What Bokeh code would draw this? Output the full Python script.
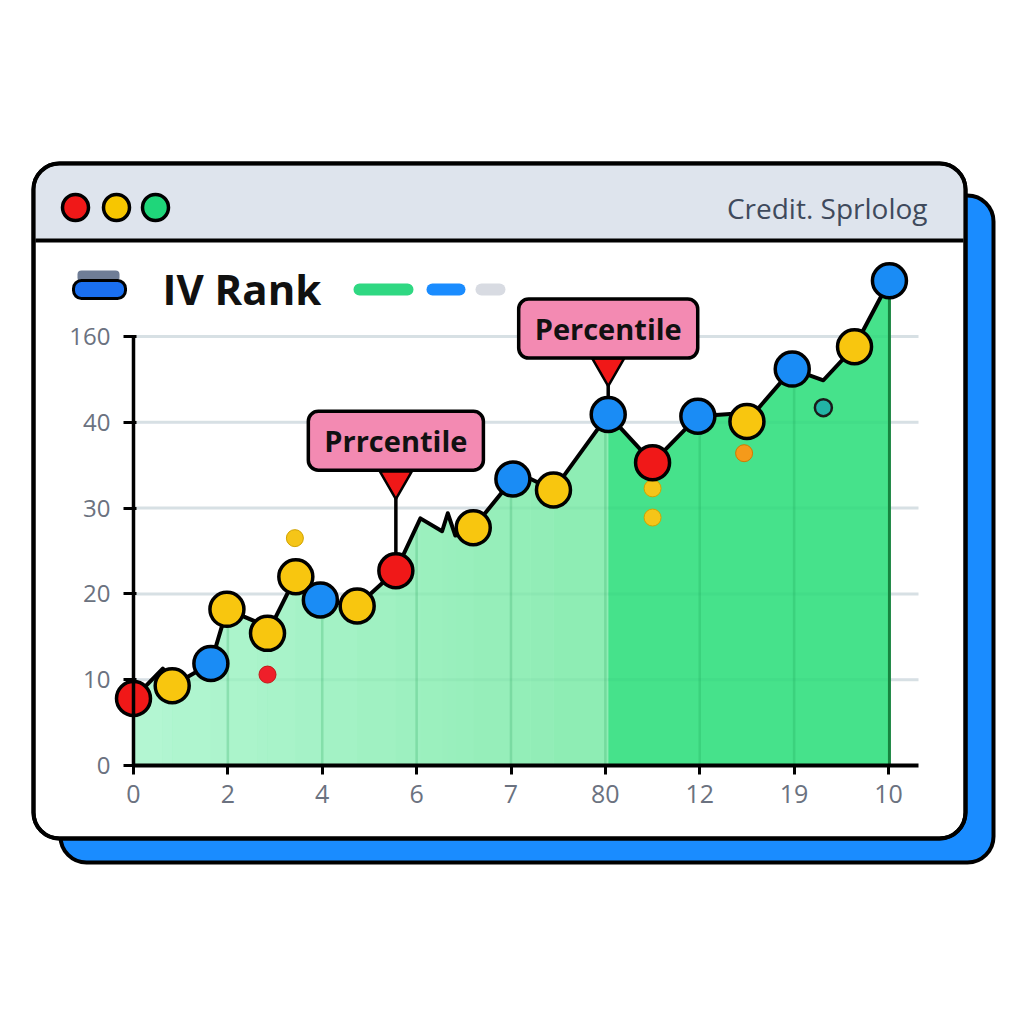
from bokeh.plotting import figure
from bokeh.models import BoxAnnotation, Label, FixedTicker
from bokeh.embed import file_html
from bokeh.resources import INLINE
import numpy as np

# ---------------- data ----------------
path_x = [0.00, 0.31, 0.41, 0.82, 0.99, 1.31, 1.42, 1.72, 1.98, 2.37, 2.78,
          3.04, 3.27, 3.33, 3.41, 3.60, 4.02, 4.21, 4.45, 5.03, 5.50, 5.98,
          6.36, 6.50, 6.98, 7.31, 7.64, 8.01]
path_y = [7.8, 11.3, 9.3, 11.9, 18.2, 16.7, 15.4, 22.0, 19.3, 18.6, 22.7,
          28.8, 27.3, 29.4, 26.8, 27.7, 33.4, 33.4, 32.1, 40.9, 35.3, 40.7,
          41.0, 40.1, 46.2, 44.9, 48.8, 56.5]
path_kind = ["r", "", "y", "b", "y", "", "y", "y", "b", "y", "r",
             "", "", "", "", "y", "b", "", "y", "b", "r", "b",
             "", "y", "b", "", "y", "b"]

extra_x = [1.71, 1.42, 5.50, 5.50, 6.47, 7.31]
extra_y = [26.5, 10.6, 32.3, 28.9, 36.4, 41.7]
extra_kind = ["y", "r", "y", "y", "o", "t"]

x_tick_pos = [0, 1, 2, 3, 4, 5, 6, 7, 8]
x_tick_labels = ["0", "2", "4", "6", "7", "80", "12", "19", "10"]
y_tick_pos = [0, 10, 20, 30, 40, 50]
y_tick_labels = ["0", "10", "20", "30", "40", "160"]

chart_title = "IV Rank"
window_caption = "Credit. Sprlolog"
callout_index = [10, 19]
callout_text = ["Prrcentile", "Percentile"]

# ---------------- styles / layout ----------------
W, H = 1020, 1020
OX, OY = 133, 765            # canvas px of the data origin
PX_X, PX_Y = 94.375, 8.58    # px per data unit
X0, X1 = -OX / PX_X, (W - OX) / PX_X
Y0, Y1 = -(H - OY) / PX_Y, OY / PX_Y
X_AXIS_END = 8.318
callout_label_off = [130, 86]
callout_ptr_off = [90, 47]
split_index = 19

main_colors = {"r": "#f01818", "y": "#f8c60f", "b": "#1a8cf5"}
extra_fill = {"y": "#f5c518", "r": "#ef1f2a", "o": "#f59a1a", "t": "#22b4a6"}
extra_line = {"y": "#d1a200", "r": "#c41414", "o": "#d27800", "t": "#1a1a1a"}


def hex_rgb(h):
    h = h.lstrip("#")
    return [int(h[i:i + 2], 16) for i in (0, 2, 4)]


def mix(c1, c2, f):
    a, b = hex_rgb(c1), hex_rgb(c2)
    return "#%02x%02x%02x" % tuple(round(x + (y - x) * f) for x, y in zip(a, b))


p = figure(width=W, height=H, x_range=(X0, X1), y_range=(Y0, Y1),
           output_backend="svg", toolbar_location=None,
           min_border=0, min_border_left=0, min_border_right=0,
           min_border_top=0, min_border_bottom=0)
p.outline_line_color = None
p.background_fill_color = "white"
p.border_fill_color = "white"

# ---------------- window decoration ----------------
def box(l, r, t, b, fill, line=None, lw=0, radius=0, level="image"):
    bx = BoxAnnotation(left=l, right=r, top=t, bottom=b,
                       left_units="canvas", right_units="canvas",
                       top_units="canvas", bottom_units="canvas",
                       fill_color=fill, fill_alpha=1 if fill else 0,
                       line_color=line, line_alpha=1, line_width=lw,
                       border_radius=radius, level=level, propagate_hover=False)
    p.add_layout(bx)
    return bx

box(60, 993, 195, 862, "#1a8cff", "black", 4, 26)       # shadow
box(33, 965, 163, 838, "white", "black", 4, 26)         # window
box(35, 963, 165, 239, "#dee4ed", radius=(23, 23, 0, 0))  # title bar
box(35, 963, 238, 242, "black")                         # separator
box(33, 965, 163, 838, None, "black", 4, 26)            # window outline

for cx, col in [(75, "#f01818"), (116, "#f7c600"), (155, "#1fd67a")]:
    box(cx - 13, cx + 13, 194, 220, col, "black", 3.5, 13)

# legend-like icon and pills
box(77, 119, 270, 281, "#6f7d96", None, 0, 4)
box(73, 125, 280, 298, "#1a6ff0", "black", 3, 8)
box(353, 413, 283, 295, "#2fd882", None, 0, 6)
box(426, 465, 283, 295, "#1a8cff", None, 0, 6)
box(475, 505, 283, 295, "#d8dbe2", None, 0, 6)

p.add_layout(Label(x=927, y=207, x_units="canvas", y_units="canvas",
                   text=window_caption, text_align="right", text_baseline="middle",
                   text_font="Open Sans", text_font_size="28px", text_color="#3f4a5c"))
p.add_layout(Label(x=162, y=288, x_units="canvas", y_units="canvas",
                   text=chart_title, text_align="left", text_baseline="middle",
                   text_font="Open Sans", text_font_style="bold",
                   text_font_size="42px", text_color="#111111"))

# ---------------- axes (fixed at the data origin) ----------------
p.xaxis.fixed_location = 0
p.yaxis.fixed_location = 0
p.xaxis.ticker = FixedTicker(ticks=x_tick_pos)
p.xaxis.major_label_overrides = {t: s for t, s in zip(x_tick_pos, x_tick_labels)}
p.yaxis.ticker = FixedTicker(ticks=y_tick_pos)
p.yaxis.major_label_overrides = {t: s for t, s in zip(y_tick_pos, y_tick_labels)}
p.xaxis.minor_tick_line_color = None
p.yaxis.minor_tick_line_color = None

p.xaxis.bounds = (0, X_AXIS_END)
p.xaxis.axis_line_width = 4
p.xaxis.axis_line_color = "black"
p.xaxis.major_tick_line_width = 3
p.xaxis.major_tick_line_color = "black"
p.xaxis.major_tick_out = 9
p.xaxis.major_tick_in = 0
p.xaxis.major_label_standoff = 10
p.xaxis.major_label_text_font = "Open Sans"
p.xaxis.major_label_text_font_size = "25px"
p.xaxis.major_label_text_color = "#6b7280"

p.yaxis.bounds = (0, y_tick_pos[-1])
p.yaxis.axis_line_width = 3.5
p.yaxis.axis_line_color = "black"
p.yaxis.major_tick_line_width = 3
p.yaxis.major_tick_line_color = "black"
p.yaxis.major_tick_in = 3
p.yaxis.major_tick_out = 10
p.yaxis.major_label_standoff = 13
p.yaxis.major_label_text_font = "Open Sans"
p.yaxis.major_label_text_font_size = "24px"
p.yaxis.major_label_text_color = "#6b7280"

p.xgrid.grid_line_color = None
p.ygrid.grid_line_color = None

# horizontal guide lines from the y axis to the right end of the x axis
gy = y_tick_pos[1:]
p.segment(x0=[0] * len(gy), y0=gy, x1=[X_AXIS_END] * len(gy), y1=gy,
          line_color="#e1e5ec", line_width=3, level="underlay")

# ---------------- area ----------------
light_l, light_r, dark = "#b4f6d3", "#8cecb2", "#46e28b"
# base layer so that the gradient strips leave no seams
p.varea(x=path_x[:split_index + 1], y1=0, y2=path_y[:split_index + 1],
        fill_color=mix(light_l, light_r, 0.5))
for i in range(split_index):
    f = (path_x[i] + path_x[i + 1]) / 2 / path_x[split_index]
    p.varea(x=path_x[i:i + 2], y1=0, y2=path_y[i:i + 2],
            fill_color=mix(light_l, light_r, f))
p.varea(x=path_x[split_index:], y1=0, y2=path_y[split_index:],
        fill_color=dark)

# guide lines seen through the fill
p.segment(x0=[0] * len(gy), y0=gy, x1=[X_AXIS_END] * len(gy), y1=gy,
          line_color="#0b7a3c", line_alpha=0.045, line_width=3)
vx = x_tick_pos[1:-1]
vtop = list(np.interp(vx, path_x, path_y))
p.segment(x0=vx, y0=[0] * len(vx), x1=vx, y1=vtop,
          line_color="#169a4e", line_alpha=0.22, line_width=2.5)
p.segment(x0=[path_x[-1]], y0=[0], x1=[path_x[-1]], y1=[path_y[-1]],
          line_color="#17843f", line_width=3)

# extra small dots
p.scatter(extra_x, extra_y, size=17,
          fill_color=[extra_fill[k] for k in extra_kind],
          line_color=[extra_line[k] for k in extra_kind],
          line_width=[2.5 if k == "t" else 1 for k in extra_kind])

# callout stems and pointers
cx = [path_x[i] for i in callout_index]
cy = [path_y[i] for i in callout_index]
ptr_y = [y + o / PX_Y for y, o in zip(cy, callout_ptr_off)]
p.segment(x0=cx, y0=cy, x1=cx, y1=ptr_y, line_color="black", line_width=3.5)

# main line
p.line(path_x, path_y, line_color="black", line_width=4, line_join="round")

for k, col in main_colors.items():
    xs = [x for x, kk in zip(path_x, path_kind) if kk == k]
    ys = [y for y, kk in zip(path_y, path_kind) if kk == k]
    p.scatter(xs, ys, size=34, fill_color=col, line_color="black", line_width=3.5)

p.scatter(cx, ptr_y, marker="inverted_triangle", size=32,
          fill_color="#f01818", line_color="black", line_width=2.5)

for x, y, off, txt in zip(cx, cy, callout_label_off, callout_text):
    p.add_layout(Label(x=x, y=y, y_offset=off, text=txt,
                       text_align="center", text_baseline="middle",
                       text_font="Open Sans", text_font_style="bold",
                       text_font_size="29px", text_color="#111111",
                       background_fill_color="#f38ab2", border_line_color="black",
                       border_line_width=3.5, padding=(16, 10), border_radius=10))

open("out.html", "w").write(file_html(p, INLINE))
